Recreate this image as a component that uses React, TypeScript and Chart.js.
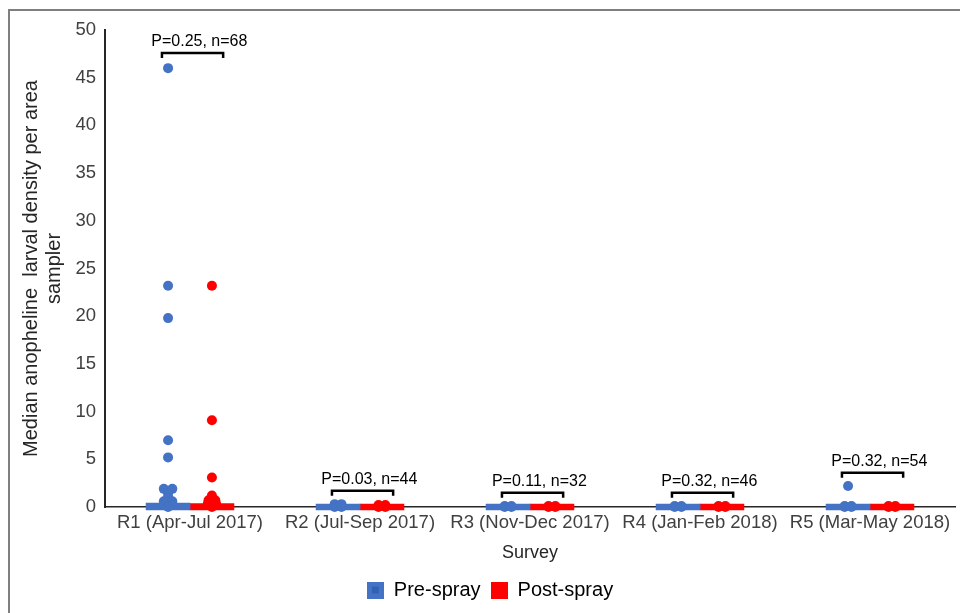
import React, { useEffect, useRef } from "react";
import { Chart, registerables } from "chart.js";

Chart.register(...registerables);

// ---------- data ----------
const categories = [
  "R1 (Apr-Jul 2017)",
  "R2 (Jul-Sep 2017)",
  "R3 (Nov-Dec 2017)",
  "R4 (Jan-Feb 2018)",
  "R5 (Mar-May 2018)",
];

// box (inter-quartile range) per survey, drawn as thin floating bars around 0
const preBoxLow = [-0.3, -0.3, -0.3, -0.3, -0.3];
const preBoxHigh = [0.4, 0.3, 0.3, 0.3, 0.3];
const postBoxLow = [-0.3, -0.3, -0.3, -0.3, -0.3];
const postBoxHigh = [0.35, 0.3, 0.3, 0.3, 0.3];

// individual sampler values (larval density) per survey
const preValues: number[][] = [
  [46, 23.2, 19.8, 7.0, 5.2, 1.9, 1.9, 1.4, 1.0, 0.6, 0.6, 0.2, 0.2, 0],
  [0.3, 0.3, 0, 0],
  [0.1, 0.1, 0, 0],
  [0.1, 0.1, 0, 0],
  [2.2, 0.1, 0.1, 0, 0],
];
const preJitter: number[][] = [
  [0, 0, 0, 0, 0, -0.025, 0.025, 0, 0, -0.025, 0.025, -0.025, 0.025, 0],
  [-0.02, 0.02, -0.02, 0.02],
  [-0.02, 0.02, -0.02, 0.02],
  [-0.02, 0.02, -0.02, 0.02],
  [0, -0.02, 0.02, -0.02, 0.02],
];
const postValues: number[][] = [
  [23.2, 9.1, 3.1, 1.2, 0.7, 0.7, 0.3, 0.3, 0],
  [0.2, 0.2, 0, 0],
  [0.1, 0.1, 0, 0],
  [0.1, 0.1, 0, 0],
  [0.1, 0.1, 0, 0],
];
const postJitter: number[][] = [
  [0, 0, 0, 0, -0.02, 0.02, -0.025, 0.025, 0],
  [-0.02, 0.02, -0.02, 0.02],
  [-0.02, 0.02, -0.02, 0.02],
  [-0.02, 0.02, -0.02, 0.02],
  [-0.02, 0.02, -0.02, 0.02],
];

const bracketLevel = [47.6, 1.7, 1.5, 1.5, 3.6];
const pLabels = ["P=0.25, n=68", "P=0.03, n=44", "P=0.11, n=32", "P=0.32, n=46", "P=0.32, n=54"];

const seriesNames = ["Pre-spray", "Post-spray"];
const yMin = 0;
const yMax = 50;
const yStep = 5;
const yTitle = ["Median anopheline  larval density per area", "sampler"];
const xTitle = "Survey";

// ---------- style ----------
const BLUE = "#4472C4";
const BLUE_DARK = "#2F62B5";
const RED = "#FF0000";
const FONT = "'Liberation Sans', Arial, sans-serif";
const OFF = 0.129; // half group width in category units
const BR_FROM = -0.165;
const BR_TO = 0.195;
const LABEL_SHIFT = 0.055;

function makeSwatch(fill: string, inner?: string) {
  const c = document.createElement("canvas");
  c.width = 17;
  c.height = 17;
  const g = c.getContext("2d")!;
  g.fillStyle = fill;
  g.fillRect(0, 0, 17, 17);
  if (inner) {
    g.fillStyle = inner;
    g.fillRect(5, 5, 7, 7);
  }
  return c;
}

const bracketPlugin = {
  id: "pBrackets",
  afterDatasetsDraw(chart: any) {
    const { ctx, scales } = chart;
    const x = scales.x;
    const y = scales.y;
    ctx.save();
    categories.forEach((_, i) => {
      const x1 = x.getPixelForValue(i + 1 + BR_FROM);
      const x2 = x.getPixelForValue(i + 1 + BR_TO);
      const yy = y.getPixelForValue(bracketLevel[i]);
      ctx.strokeStyle = "#000";
      ctx.lineWidth = 2.5;
      ctx.beginPath();
      ctx.moveTo(x1, yy + 5);
      ctx.lineTo(x1, yy);
      ctx.lineTo(x2, yy);
      ctx.lineTo(x2, yy + 5);
      ctx.stroke();
      ctx.fillStyle = "#000";
      ctx.font = `16px ${FONT}`;
      ctx.textAlign = "center";
      ctx.textBaseline = "alphabetic";
      ctx.fillText(pLabels[i], x.getPixelForValue(i + 1 + LABEL_SHIFT), yy - 7);
    });
    ctx.restore();
  },
};

export default function App() {
  const ref = useRef<HTMLCanvasElement | null>(null);

  useEffect(() => {
    if (!ref.current) return;
    const blueSw = makeSwatch(BLUE, BLUE_DARK);
    const redSw = makeSwatch(RED);

    const prePoints = preValues.flatMap((vals, i) =>
      vals.map((v, k) => ({ x: i + 1 - OFF + preJitter[i][k], y: v }))
    );
    const postPoints = postValues.flatMap((vals, i) =>
      vals.map((v, k) => ({ x: i + 1 + OFF + postJitter[i][k], y: v }))
    );

    const chart = new Chart(ref.current, {
      type: "bar",
      data: {
        datasets: [
          {
            type: "scatter",
            label: seriesNames[0] + " values",
            data: prePoints,
            backgroundColor: BLUE,
            borderColor: BLUE,
            pointRadius: 5,
            borderWidth: 0,
            clip: false,
            order: 0,
          } as any,
          {
            type: "scatter",
            label: seriesNames[1] + " values",
            data: postPoints,
            backgroundColor: RED,
            borderColor: RED,
            pointRadius: 5,
            borderWidth: 0,
            clip: false,
            order: 0,
          } as any,
          {
            type: "bar",
            label: seriesNames[0],
            data: categories.map((_, i) => ({ x: i + 1 - OFF, y: [preBoxLow[i], preBoxHigh[i]] })),
            backgroundColor: BLUE,
            borderWidth: 0,
            barThickness: 44,
            grouped: false,
            clip: false,
            order: 1,
          } as any,
          {
            type: "bar",
            label: seriesNames[1],
            data: categories.map((_, i) => ({ x: i + 1 + OFF, y: [postBoxLow[i], postBoxHigh[i]] })),
            backgroundColor: RED,
            borderWidth: 0,
            barThickness: 44,
            grouped: false,
            clip: false,
            order: 1,
          } as any,
        ],
      },
      options: {
        animation: false,
        responsive: false,
        events: [],
        layout: { padding: { left: 24, right: 4, top: 30, bottom: 0 } },
        scales: {
          x: {
            type: "linear",
            min: 0.5,
            max: 5.5,
            offset: false,
            afterBuildTicks: (s: any) => {
              s.ticks = categories.map((_, i) => ({ value: i + 1 }));
            },
            afterFit: (s: any) => {
              s.height = 63;
            },
            grid: { display: false, drawTicks: false, offset: false },
            border: { display: true, color: "#262626", width: 1.5 },
            ticks: {
              autoSkip: false,
              maxRotation: 0,
              padding: 5,
              color: "#404040",
              font: { size: 18.5, family: FONT },
              callback: (v: any) => categories[Math.round(Number(v)) - 1] ?? "",
            },
            title: {
              display: true,
              text: xTitle,
              color: "#262626",
              font: { size: 18, family: FONT },
              padding: { top: 0, bottom: 6 },
            },
          },
          y: {
            min: yMin,
            max: yMax,
            afterFit: (s: any) => {
              s.width = 81;
            },
            grid: { display: false, drawTicks: false },
            border: { display: true, color: "#262626", width: 2 },
            ticks: {
              stepSize: yStep,
              padding: 9,
              color: "#404040",
              font: { size: 18.5, family: FONT },
            },
            title: {
              display: true,
              text: yTitle,
              color: "#262626",
              font: { size: 20, family: FONT, lineHeight: 1.15 },
              padding: { top: -4, bottom: 0 },
            },
          },
        },
        plugins: {
          tooltip: { enabled: false },
          legend: {
            display: true,
            position: "bottom",
            labels: {
              usePointStyle: true,
              boxWidth: 17,
              boxHeight: 17,
              padding: 10,
              color: "#1a1a1a",
              font: { size: 20, family: FONT },
              generateLabels: () => [
                {
                  text: seriesNames[0],
                  fillStyle: BLUE,
                  strokeStyle: BLUE,
                  lineWidth: 0,
                  pointStyle: blueSw as any,
                  hidden: false,
                  datasetIndex: 2,
                },
                {
                  text: seriesNames[1],
                  fillStyle: RED,
                  strokeStyle: RED,
                  lineWidth: 0,
                  pointStyle: redSw as any,
                  hidden: false,
                  datasetIndex: 3,
                },
              ],
            },
          },
        },
      } as any,
      plugins: [bracketPlugin],
    });
    return () => chart.destroy();
  }, []);

  return (
    <div style={{ position: "fixed", left: 0, top: 0, width: 960, height: 613, background: "#fff", overflow: "hidden" }}>
      <div
        style={{
          position: "absolute",
          left: 8,
          top: 9,
          width: 960,
          height: 620,
          borderTop: "2px solid #7f7f7f",
          borderLeft: "2px solid #7f7f7f",
        }}
      />
      <canvas
        ref={ref}
        width={960}
        height={610}
        style={{ position: "absolute", left: 0, top: 0, width: 960, height: 610 }}
      />
    </div>
  );
}
